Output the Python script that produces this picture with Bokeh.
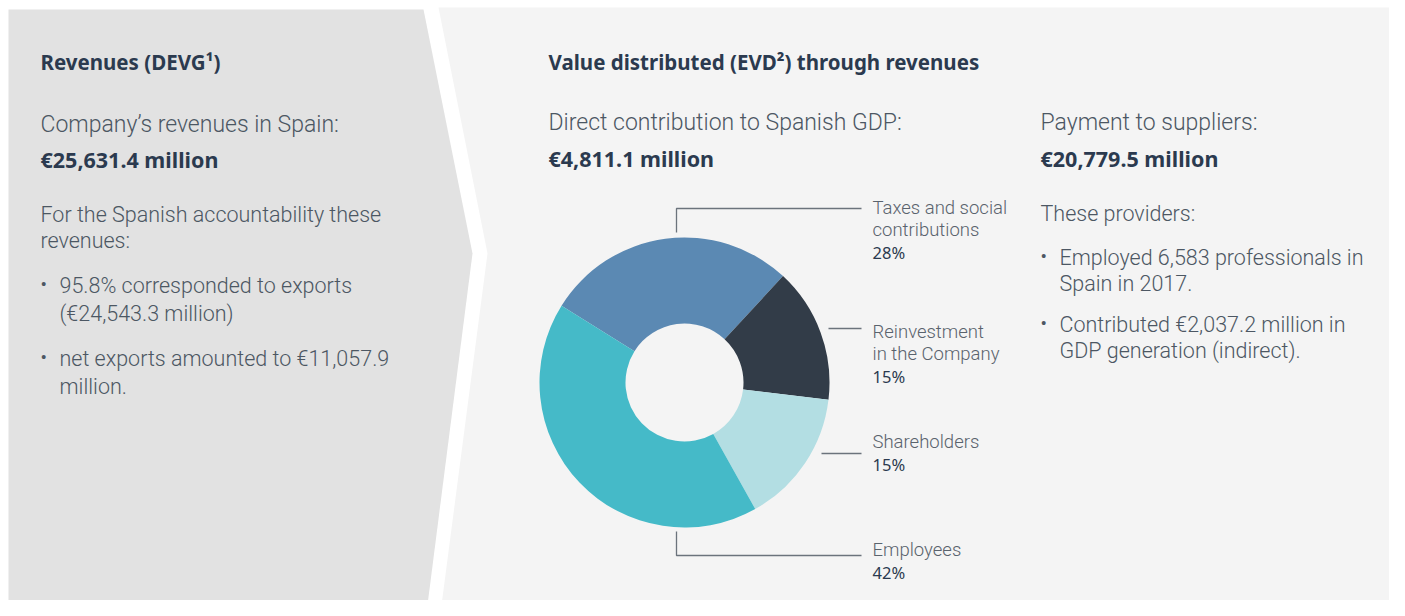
from bokeh.plotting import figure
from bokeh.models import Range1d, ColumnDataSource
from bokeh.core.properties import value
from bokeh.embed import file_html
from bokeh.resources import INLINE
import numpy as np

# ---------------- data ----------------
categories = ["Taxes and social contributions", "Reinvestment in the Company", "Shareholders", "Employees"]
shares = [28, 15, 15, 42]
colors = ["#5b89b3", "#323c48", "#b3dee3", "#45bac8"]
label_lines = [["Taxes and social", "contributions"], ["Reinvestment", "in the Company"], ["Shareholders"], ["Employees"]]
pct_labels = ["28%", "15%", "15%", "42%"]

left_title = "Revenues (DEVG\u00b9)"
left_sub = "Company\u2019s revenues in Spain:"
left_value = "\u20ac25,631.4 million"
left_intro = ["For the Spanish accountability these", "revenues:"]
left_bullets = [["95.8% corresponded to exports", "(\u20ac24,543.3 million)"],
                ["net exports amounted to \u20ac11,057.9", "million."]]

right_title = "Value distributed (EVD\u00b2) through revenues"
gdp_sub = "Direct contribution to Spanish GDP:"
gdp_value = "\u20ac4,811.1 million"
sup_sub = "Payment to suppliers:"
sup_value = "\u20ac20,779.5 million"
sup_intro = "These providers:"
sup_bullets = [["Employed 6,583 professionals in", "Spain in 2017."],
               ["Contributed \u20ac2,037.2 million in", "GDP generation (indirect)."]]

# ---------------- figure ----------------
W, H = 1389, 600
p = figure(width=W, height=H, x_range=Range1d(0, W), y_range=Range1d(H, 0),
           output_backend="svg", toolbar_location=None, min_border=0)
p.axis.visible = False
p.grid.visible = False
p.outline_line_color = None
p.background_fill_color = "white"
p.border_fill_color = "white"

# panels
p.patch([8, 423, 472, 425, 8], [9, 9, 253, 620, 620], fill_color="#e2e2e2", line_color=None)
p.patch([438, 1405, 1405, 439, 487], [7, 7, 620, 620, 253], fill_color="#f4f4f4", line_color=None)

NAVY = "#2b3a4f"
BODY = "#4c5763"
LBL = "#5a636d"
BOLD_FONT = value("Noto Sans")
LIGHT_FONT = value("Roboto Light")


def txt(x, y, s, size, color, font, style="normal"):
    p.text(x=[x], y=[y], text=[s], text_font=font, text_font_size=f"{size}px",
           text_font_style=style, text_color=color, text_baseline="middle", text_align="left")


# left panel
txt(40, 61, left_title, 20.5, NAVY, BOLD_FONT, "bold")
txt(40, 124, left_sub, 23, BODY, LIGHT_FONT)
txt(40, 159, left_value, 21.5, NAVY, BOLD_FONT, "bold")
for i, s in enumerate(left_intro):
    txt(40, 214 + 26 * i, s, 21.5, BODY, LIGHT_FONT)
ystart = [285, 358]
for b, lines in enumerate(left_bullets):
    txt(40, ystart[b] - 1, "\u2022", 19, BODY, value("Roboto"))
    for i, s in enumerate(lines):
        txt(59, ystart[b] + 28 * i, s, 21.5, BODY, LIGHT_FONT)

# right panel texts
txt(548, 61, right_title, 20.5, NAVY, BOLD_FONT, "bold")
txt(548, 122, gdp_sub, 23, BODY, LIGHT_FONT)
txt(548, 158, gdp_value, 21.5, NAVY, BOLD_FONT, "bold")
txt(1040, 122, sup_sub, 23, BODY, LIGHT_FONT)
txt(1040, 158, sup_value, 21.5, NAVY, BOLD_FONT, "bold")
txt(1040, 213, sup_intro, 21.5, BODY, LIGHT_FONT)
ystart = [257, 324]
for b, lines in enumerate(sup_bullets):
    txt(1040, ystart[b] - 1, "\u2022", 19, BODY, value("Roboto"))
    for i, s in enumerate(lines):
        txt(1059, ystart[b] + 26 * i, s, 21.5, BODY, LIGHT_FONT)

# donut
cx, cy = 684, 382
frac = np.array(shares, dtype=float) / sum(shares)
start0 = np.deg2rad(148)
cum = np.concatenate([[0], np.cumsum(frac)[:-1]])
starts = start0 - cum * 2 * np.pi
ends = starts - frac * 2 * np.pi
src = ColumnDataSource(dict(x=[cx] * 4, y=[cy] * 4, start=starts, end=ends, color=colors, cat=categories))
p.annular_wedge(x="x", y="y", inner_radius=59, outer_radius=145, start_angle="start", end_angle="end",
                direction="clock", fill_color="color", line_color=None, source=src)

# leader lines
LINE = "#6b737c"
p.line([676, 676, 861], [232, 208, 208], line_color=LINE, line_width=1.3)
p.line([828, 861], [328, 328], line_color=LINE, line_width=1.3)
p.line([821, 861], [453, 453], line_color=LINE, line_width=1.3)
p.line([676, 676, 861], [531, 555, 555], line_color=LINE, line_width=1.3)

label_y = [207, 331, 441, 549]
for k in range(4):
    y0 = label_y[k]
    for i, s in enumerate(label_lines[k]):
        txt(872, y0 + 22.5 * i, s, 18.5, LBL, LIGHT_FONT)
    txt(872, y0 + 22.5 * len(label_lines[k]), pct_labels[k], 16.5, NAVY, BOLD_FONT)

open("out.html", "w").write(file_html(p, INLINE))
